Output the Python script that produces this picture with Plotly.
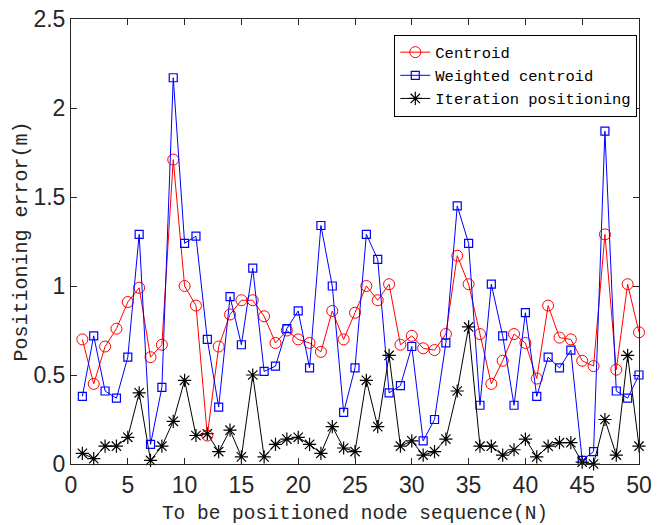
import plotly.graph_objects as go

nodes = list(range(1, 51))

centroid = [0.70, 0.45, 0.66, 0.76, 0.91, 0.99, 0.60, 0.67, 1.71, 1.00,
            0.89, 0.16, 0.66, 0.84, 0.92, 0.92, 0.83, 0.68, 0.75, 0.70,
            0.68, 0.63, 0.86, 0.70, 0.85, 1.00, 0.92, 1.01, 0.67, 0.72,
            0.65, 0.64, 0.73, 1.17, 1.01, 0.73, 0.45, 0.58, 0.73, 0.68,
            0.48, 0.89, 0.71, 0.70, 0.58, 0.55, 1.29, 0.53, 1.01, 0.74]

weighted = [0.38, 0.72, 0.41, 0.37, 0.60, 1.29, 0.11, 0.43, 2.17, 1.24,
            1.28, 0.70, 0.32, 0.94, 0.67, 1.10, 0.52, 0.55, 0.76, 0.86,
            0.54, 1.34, 1.00, 0.29, 0.54, 1.29, 1.15, 0.40, 0.44, 0.66,
            0.13, 0.25, 0.68, 1.45, 1.24, 0.33, 1.01, 0.72, 0.33, 0.85,
            0.38, 0.60, 0.54, 0.64, 0.02, 0.07, 1.87, 0.41, 0.37, 0.50]

iteration = [0.06, 0.03, 0.10, 0.10, 0.15, 0.40, 0.02, 0.10, 0.24, 0.47,
             0.16, 0.17, 0.07, 0.19, 0.04, 0.50, 0.04, 0.11, 0.14, 0.15,
             0.11, 0.06, 0.21, 0.09, 0.07, 0.47, 0.21, 0.61, 0.10, 0.13,
             0.05, 0.07, 0.14, 0.41, 0.77, 0.10, 0.10, 0.05, 0.08, 0.14,
             0.04, 0.10, 0.12, 0.12, 0.01, 0.00, 0.25, 0.05, 0.61, 0.10]

x_ticks = [0, 5, 10, 15, 20, 25, 30, 35, 40, 45, 50]
y_ticks = [0, 0.5, 1, 1.5, 2, 2.5]
y_tick_text = ["0", "0.5", "1", "1.5", "2", "2.5"]

mono = "Liberation Mono, Courier New, monospace"
sans = "Liberation Sans, Arial, sans-serif"

fig = go.Figure()
fig.add_trace(go.Scatter(
    x=nodes, y=centroid, mode="lines+markers", name="Centroid", cliponaxis=False,
    line=dict(color="#ff0000", width=1),
    marker=dict(symbol="circle-open", size=11, color="#ff0000", line=dict(width=1))))
fig.add_trace(go.Scatter(
    x=nodes, y=weighted, mode="lines+markers", name="Weighted centroid", cliponaxis=False,
    line=dict(color="#0000ff", width=1),
    marker=dict(symbol="square-open", size=8, color="#0000ff", line=dict(width=1.2))))
fig.add_trace(go.Scatter(
    x=nodes, y=iteration, mode="lines+markers", name="Iteration positioning", cliponaxis=False,
    line=dict(color="#000000", width=1),
    marker=dict(symbol="asterisk-open", size=11, color="#000000", line=dict(width=1.2, color="#000000"))))

axis_common = dict(
    showline=True, mirror="ticks", linecolor="#262626", linewidth=1,
    ticks="inside", ticklen=6, tickcolor="#262626", tickwidth=1,
    showgrid=False, zeroline=False, automargin=False,
    tickfont=dict(family=sans, size=23, color="#262626"),
)

fig.update_layout(
    width=658, height=525,
    margin=dict(l=71, r=19, t=19, b=61),
    paper_bgcolor="white", plot_bgcolor="white",
    showlegend=True,
    legend=dict(
        x=0.997, y=0.965, xanchor="right", yanchor="top",
        bgcolor="white", bordercolor="#000000", borderwidth=1,
        font=dict(family=mono, size=15.5, color="#000000"),
        tracegroupgap=0, itemwidth=30,
    ),
    xaxis=dict(axis_common, range=[0, 50], tickvals=x_ticks,
               title=dict(text="To be positioned node sequence(N)",
                          font=dict(family=mono, size=19.5, color="#262626"), standoff=9)),
    yaxis=dict(axis_common, range=[0, 2.5], tickvals=y_ticks, ticktext=y_tick_text,
               title=dict(text="Positioning error(m)",
                          font=dict(family=mono, size=20, color="#262626"), standoff=0)),
)

fig.write_html(
    "out.html",
    config={"displayModeBar": False},
    post_script="document.body.style.margin='0';document.body.style.overflow='hidden';",
)
